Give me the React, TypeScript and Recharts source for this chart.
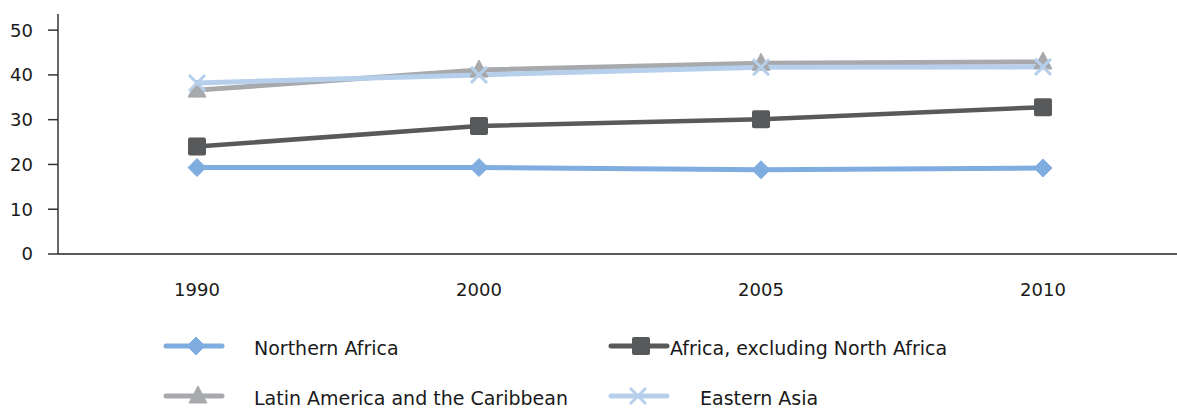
import React from 'react';
import { LineChart, Line, XAxis, YAxis, Legend } from 'recharts';

const years = ['1990', '2000', '2005', '2010'];
const northernAfrica = [19.3, 19.3, 18.8, 19.2];
const africaExclNorth = [24.0, 28.6, 30.1, 32.8];
const latinAmerica = [36.6, 41.1, 42.6, 42.9];
const easternAsia = [38.2, 40.0, 41.7, 41.8];
const yTicks = [0, 10, 20, 30, 40, 50];

const seriesNames = ['Northern Africa', 'Africa, excluding North Africa', 'Latin America and the Caribbean', 'Eastern Asia'];
const colors = ['#80ADE0', '#58595B', '#A7A9AC', '#B6D0EC'];
const markers = ['diamond', 'square', 'triangle', 'cross'];

const data = years.map((y, i) => ({
  year: y,
  s0: northernAfrica[i],
  s1: africaExclNorth[i],
  s2: latinAmerica[i],
  s3: easternAsia[i],
}));

const FONT = '"DejaVu Sans", sans-serif';

function Marker({ type, cx, cy, color }: { type: string; cx: number; cy: number; color: string }) {
  if (type === 'diamond') {
    const r = 9;
    return <path d={`M${cx},${cy - r}L${cx + r},${cy}L${cx},${cy + r}L${cx - r},${cy}Z`} fill={color} stroke={color} strokeWidth={1} strokeLinejoin="round" />;
  }
  if (type === 'square') {
    const r = 9;
    return <rect x={cx - r} y={cy - r} width={2 * r} height={2 * r} rx={2} fill={color} />;
  }
  if (type === 'triangle') {
    const r = 9;
    return <path d={`M${cx},${cy - r - 1}L${cx + r},${cy + r - 2}L${cx - r},${cy + r - 2}Z`} fill={color} stroke={color} strokeWidth={1} strokeLinejoin="round" />;
  }
  const r = 8;
  return (
    <g stroke={color} strokeWidth={3}>
      <line x1={cx - r} y1={cy - r} x2={cx + r} y2={cy + r} />
      <line x1={cx - r} y1={cy + r} x2={cx + r} y2={cy - r} />
    </g>
  );
}

const makeDot = (idx: number) => (props: any) => {
  const { cx, cy, index } = props;
  if (cx == null || cy == null) return <g key={`d${idx}-${index}`} />;
  return (
    <g key={`d${idx}-${index}`}>
      <Marker type={markers[idx]} cx={cx} cy={cy} color={colors[idx]} />
    </g>
  );
};

const legendLayout = [
  { x: 166, y: 346, mx: 196, tx: 254 },
  { x: 611, y: 346, mx: 641, tx: 670 },
  { x: 166, y: 396, mx: 198, tx: 254 },
  { x: 611, y: 396, mx: 638, tx: 700 },
];

function LegendContent() {
  return (
    <svg width={1177} height={409} style={{ position: 'absolute', left: 0, top: 0, overflow: 'visible' }}>
      {seriesNames.map((name, i) => {
        const l = legendLayout[i];
        return (
          <g key={name}>
            <line x1={l.x} y1={l.y} x2={l.x + 56} y2={l.y} stroke={colors[i]} strokeWidth={5} strokeLinecap="round" />
            <Marker type={markers[i]} cx={l.mx} cy={l.y} color={colors[i]} />
            <text x={l.tx} y={l.y + 3} dominantBaseline="middle" fontFamily={FONT} fontSize={19} fill="#1a1a1a">
              {name}
            </text>
          </g>
        );
      })}
    </svg>
  );
}

export default function App() {
  return (
    <div style={{ position: 'fixed', left: 0, top: 0, width: 1177, height: 409, overflow: 'hidden', background: '#fff' }}>
      <LineChart width={1186} height={409} data={data} margin={{ top: 14, right: 4, bottom: 125, left: 0 }}>
        <XAxis
          dataKey="year"
          padding={{ left: 139, right: 139 }}
          axisLine={{ stroke: '#222', strokeWidth: 1.5 }}
          tickLine={false}
          tickMargin={23}
          tick={{ fill: '#1a1a1a', fontSize: 18, fontFamily: FONT }}
          height={30}
        />
        <YAxis
          domain={[0, 53.6]}
          ticks={yTicks}
          width={58}
          axisLine={{ stroke: '#333', strokeWidth: 1.5 }}
          tickLine={{ stroke: '#333', strokeWidth: 1.5 }}
          tickSize={10}
          tickMargin={15}
          tick={{ fill: '#1a1a1a', fontSize: 18, fontFamily: FONT }}
          allowDataOverflow
        />
        <Legend
          verticalAlign="middle"
          align="center"
          layout="horizontal"
          content={() => <LegendContent />}
          wrapperStyle={{ position: 'absolute', left: 0, top: 0, width: 1177, height: 0 }}
        />
        {[0, 1, 2, 3].map((i) => (
          <Line
            key={i}
            dataKey={`s${i}`}
            name={seriesNames[i]}
            stroke={colors[i]}
            strokeWidth={i === 1 ? 4.5 : 5}
            dot={makeDot(i)}
            activeDot={false}
            isAnimationActive={false}
            type="linear"
          />
        ))}
      </LineChart>
    </div>
  );
}
